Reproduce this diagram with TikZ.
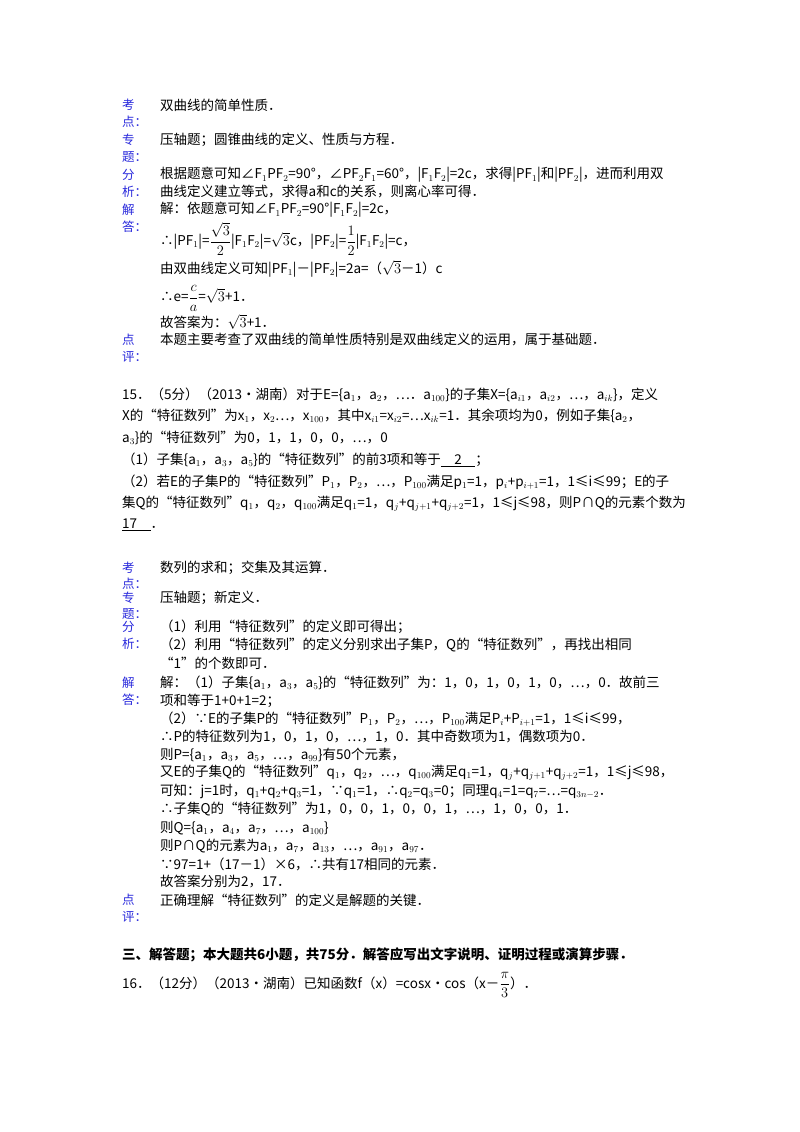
\documentclass[tikz,border=0pt]{standalone}
\usepackage{amsmath}
\usepackage{fontspec}
\setmainfont{Noto Sans CJK SC}
\definecolor{lab}{RGB}{40,40,220}
\begin{document}
\begin{tikzpicture}[x=1pt,y=-1pt,
 lbl/.style={anchor=west,inner sep=0pt,text=lab,font=\fontsize{12.5}{13}\selectfont},
 txt/.style={anchor=west,inner sep=0pt,font=\fontsize{13.5}{14}\selectfont}]
\fill[white] (0,0) rectangle (800,1132);
\useasboundingbox (0,0) rectangle (800,1132);
% block 1
\node[lbl] (l1) at (122,105) {考}; \node[lbl] (l1b) at (122,122) {点：};
\node[txt] (t1) at (160,105) {双曲线的简单性质．};
\node[lbl] (l2) at (122,140) {专}; \node[lbl] (l2b) at (122,157) {题：};
\node[txt] (t2) at (160,140) {压轴题；圆锥曲线的定义、性质与方程．};
\node[lbl] (l3) at (122,175) {分}; \node[lbl] (l3b) at (122,192) {析：};
\node[txt] (t3) at (160,175) {根据题意可知∠F$_1$PF$_2$=90°，∠PF$_2$F$_1$=60°，|F$_1$F$_2$|=2c，求得|PF$_1$|和|PF$_2$|，进而利用双};
\node[txt] (t3b) at (160,192) {曲线定义建立等式，求得a和c的关系，则离心率可得．};
\node[lbl] (l4) at (122,210) {解}; \node[lbl] (l4b) at (122,227) {答：};
\node[txt] (t4) at (160,210) {解：依题意可知∠F$_1$PF$_2$=90°|F$_1$F$_2$|=2c，};
\node[txt] (t4b) at (160,241) {∴|PF$_1$|=$\smash{\dfrac{\sqrt{3}}{2}}$|F$_1$F$_2$|=$\sqrt{3}$c，|PF$_2$|=$\smash{\dfrac{1}{2}}$|F$_1$F$_2$|=c，};
\node[txt] (t4c) at (160,269) {由双曲线定义可知|PF$_1$|－|PF$_2$|=2a=（$\sqrt{3}$－1）c};
\node[txt] (t4d) at (160,296) {∴e=$\smash{\dfrac{c}{a}}$=$\sqrt{3}$+1．};
\node[txt] (t4e) at (160,322) {故答案为：$\sqrt{3}$+1．};
\node[lbl] (l5) at (122,340) {点}; \node[lbl] (l5b) at (122,357) {评：};
\node[txt] (t5) at (160,340) {本题主要考查了双曲线的简单性质特别是双曲线定义的运用，属于基础题．};
% problem 15
\node[txt] (p1) at (122,395) {15．（5分）（2013•湖南）对于E=\{a$_1$，a$_2$，⋯．a$_{100}$\}的子集X=\{a$_{i1}$，a$_{i2}$，⋯，a$_{ik}$\}，定义};
\node[txt] (p2) at (122,416) {X的“特征数列”为x$_1$，x$_2$…，x$_{100}$，其中x$_{i1}$=x$_{i2}$=…x$_{ik}$=1．其余项均为0，例如子集\{a$_2$，};
\node[txt] (p3) at (122,438) {a$_3$\}的“特征数列”为0，1，1，0，0，⋯，0};
\node[txt] (p4) at (122,460) {（1）子集\{a$_1$，a$_3$，a$_5$\}的“特征数列”的前3项和等于\underline{\quad 2\quad}；};
\node[txt] (p5) at (122,482) {（2）若E的子集P的“特征数列”P$_1$，P$_2$，⋯，P$_{100}$满足p$_1$=1，p$_i$+p$_{i+1}$=1，1≤i≤99；E的子};
\node[txt] (p6) at (122,504) {集Q的“特征数列”q$_1$，q$_2$，q$_{100}$满足q$_1$=1，q$_j$+q$_{j+1}$+q$_{j+2}$=1，1≤j≤98，则P∩Q的元素个数为};
\node[txt] (p7) at (122,525) {\underline{17\quad}．};
% block 2
\node[lbl] (m1) at (122,568) {考}; \node[lbl] (m1b) at (122,584) {点：};
\node[txt] (s1) at (160,568) {数列的求和；交集及其运算．};
\node[lbl] (m2) at (122,598) {专}; \node[lbl] (m2b) at (122,614) {题：};
\node[txt] (s2) at (160,598) {压轴题；新定义．};
\node[lbl] (m3) at (122,627) {分}; \node[lbl] (m3b) at (122,644) {析：};
\node[txt] (s3) at (160,627) {（1）利用“特征数列”的定义即可得出；};
\node[txt] (s3b) at (160,645) {（2）利用“特征数列”的定义分别求出子集P，Q的“特征数列”，再找出相同};
\node[txt] (s3c) at (160,663) {“1”的个数即可．};
\node[lbl] (m4) at (122,683) {解}; \node[lbl] (m4b) at (122,700) {答：};
\node[txt] (s4) at (160,683) {解：（1）子集\{a$_1$，a$_3$，a$_5$\}的“特征数列”为：1，0，1，0，1，0，⋯，0．故前三};
\node[txt] (s4a) at (160,701) {项和等于1+0+1=2；};
\node[txt] (s4b) at (160,719) {（2）∵E的子集P的“特征数列”P$_1$，P$_2$，⋯，P$_{100}$满足P$_i$+P$_{i+1}$=1，1≤i≤99，};
\node[txt] (s4c) at (160,737) {∴P的特征数列为1，0，1，0，⋯，1，0．其中奇数项为1，偶数项为0．};
\node[txt] (s4d) at (160,755) {则P=\{a$_1$，a$_3$，a$_5$，⋯，a$_{99}$\}有50个元素，};
\node[txt] (s4e) at (160,773) {又E的子集Q的“特征数列”q$_1$，q$_2$，⋯，q$_{100}$满足q$_1$=1，q$_j$+q$_{j+1}$+q$_{j+2}$=1，1≤j≤98，};
\node[txt] (s4f) at (160,791) {可知：j=1时，q$_1$+q$_2$+q$_3$=1，∵q$_1$=1，∴q$_2$=q$_3$=0；同理q$_4$=1=q$_7$=…=q$_{3n-2}$．};
\node[txt] (s4g) at (160,809) {∴子集Q的“特征数列”为1，0，0，1，0，0，1，⋯，1，0，0，1．};
\node[txt] (s4h) at (160,828) {则Q=\{a$_1$，a$_4$，a$_7$，⋯，a$_{100}$\}};
\node[txt] (s4i) at (160,846) {则P∩Q的元素为a$_1$，a$_7$，a$_{13}$，⋯，a$_{91}$，a$_{97}$．};
\node[txt] (s4j) at (160,864) {∵97=1+（17－1）×6，∴共有17相同的元素．};
\node[txt] (s4k) at (160,882) {故答案分别为2，17．};
\node[lbl] (m5) at (122,900) {点}; \node[lbl] (m5b) at (122,917) {评：};
\node[txt] (s5) at (160,900) {正确理解“特征数列”的定义是解题的关键．};
% section 3
\node[txt,font=\fontsize{13.5}{14}\selectfont\bfseries] (h3) at (122,955) {三、解答题；本大题共6小题，共75分．解答应写出文字说明、证明过程或演算步骤．};
\node[txt] (q16) at (122,985) {16．（12分）（2013•湖南）已知函数f（x）=cosx•cos（x－$\dfrac{\pi}{3}$）．};
\end{tikzpicture}
\end{document}
